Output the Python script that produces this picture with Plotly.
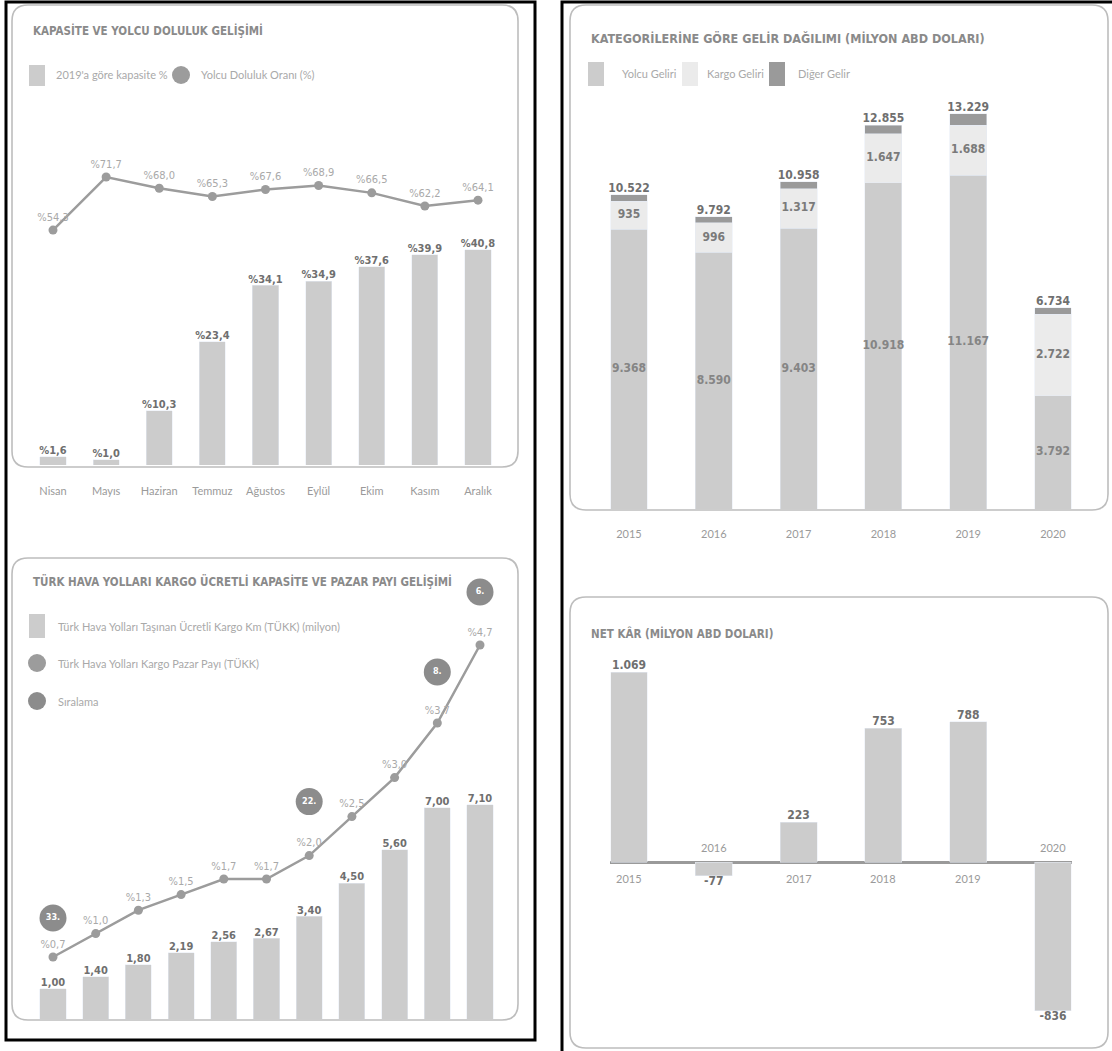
import plotly.graph_objects as go

W, H = 1112, 1051

# ---------------- data ----------------
months = ["Nisan", "Mayıs", "Haziran", "Temmuz", "Ağustos", "Eylül", "Ekim", "Kasım", "Aralık"]
capacity_pct = [1.6, 1.0, 10.3, 23.4, 34.1, 34.9, 37.6, 39.9, 40.8]
load_factor = [54.3, 71.7, 68.0, 65.3, 67.6, 68.9, 66.5, 62.2, 64.1]

cargo_years = ["2010", "2011", "2012", "2013", "2014", "2015", "2016", "2017", "2018", "2019", "2020"]
cargo_rtk = [1.00, 1.40, 1.80, 2.19, 2.56, 2.67, 3.40, 4.50, 5.60, 7.00, 7.10]
cargo_share = [0.7, 1.0, 1.3, 1.5, 1.7, 1.7, 2.0, 2.5, 3.0, 3.7, 4.7]
rank_years = ["2010", "2016", "2019", "2020"]
rank_values = [33, 22, 8, 6]
rank_lift_px = [39, 54, 51, 53]   # gap between share point and rank badge

rev_years = ["2015", "2016", "2017", "2018", "2019", "2020"]
passenger_rev = [9368, 8590, 9403, 10918, 11167, 3792]
cargo_rev = [935, 996, 1317, 1647, 1688, 2722]
total_rev = [10522, 9792, 10958, 12855, 13229, 6734]
other_rev = [t - p - c for t, p, c in zip(total_rev, passenger_rev, cargo_rev)]

profit_years = ["2015", "2016", "2017", "2018", "2019", "2020"]
net_profit = [1069, -77, 223, 753, 788, -836]

# ---------------- styles ----------------
C_BAR = "#cccccc"
C_LIGHT = "#ebebeb"
C_DARK = "#9a9a9a"
C_LINE = "#9c9c9c"
C_BADGE = "#8c8c8c"
C_TITLE = "#8a8a8a"
C_VAL = "#6f6f6f"
C_SOFT = "#a9a9a9"
C_AXIS = "#9a9a9a"
C_PANEL = "#bdbdbd"

F_TITLE = "DejaVu Sans Condensed, DejaVu Sans, sans-serif"
F_COND = "DejaVu Sans Condensed, DejaVu Sans, sans-serif"
F_THIN = "Lato, Open Sans, sans-serif"


def fx(p):
    return p / W


def fy(p):
    return 1 - p / H


def tr(v):
    """Turkish decimal: comma."""
    return f"{v:.1f}".replace(".", ",")


def thousands(v):
    return f"{v:,}".replace(",", ".")


fig = go.Figure()

# ======== Panel 1: capacity & load factor ========
fig.add_trace(go.Bar(x=months, y=capacity_pct, width=0.49, marker_color=C_BAR,
                     xaxis="x", yaxis="y", hoverinfo="skip"))
fig.add_trace(go.Scatter(x=months, y=capacity_pct, mode="text",
                         text=["%" + tr(v) for v in capacity_pct], textposition="top center",
                         textfont=dict(family=F_COND, size=11, color=C_VAL, weight="bold"),
                         xaxis="x", yaxis="y", cliponaxis=False, hoverinfo="skip"))
fig.add_trace(go.Scatter(x=months, y=load_factor, mode="lines+markers+text",
                         line=dict(color=C_LINE, width=2.5), marker=dict(size=9, color=C_LINE),
                         text=["%" + tr(v) for v in load_factor], textposition="top center",
                         textfont=dict(family=F_COND, size=11, color=C_SOFT),
                         xaxis="x", yaxis="y2", cliponaxis=False, hoverinfo="skip"))

# ======== Panel 2: cargo capacity & market share ========
fig.add_trace(go.Bar(x=cargo_years, y=cargo_rtk, width=0.61, marker_color=C_BAR,
                     xaxis="x2", yaxis="y3", hoverinfo="skip"))
fig.add_trace(go.Scatter(x=cargo_years, y=cargo_rtk, mode="text",
                         text=[f"{v:.2f}".replace(".", ",") for v in cargo_rtk], textposition="top center",
                         textfont=dict(family=F_COND, size=11, color=C_VAL, weight="bold"),
                         xaxis="x2", yaxis="y3", cliponaxis=False, hoverinfo="skip"))
fig.add_trace(go.Scatter(x=cargo_years, y=cargo_share, mode="lines+markers+text",
                         line=dict(color=C_LINE, width=2.5), marker=dict(size=9, color=C_LINE),
                         text=["%" + tr(v) for v in cargo_share], textposition="top center",
                         textfont=dict(family=F_COND, size=11, color=C_SOFT),
                         xaxis="x2", yaxis="y4", cliponaxis=False, hoverinfo="skip"))

SHARE_PX_PER_UNIT = 78.0
share_by_year = dict(zip(cargo_years, cargo_share))
badge_y = [share_by_year[y] + lift / SHARE_PX_PER_UNIT for y, lift in zip(rank_years, rank_lift_px)]
fig.add_trace(go.Scatter(x=rank_years, y=badge_y, mode="markers+text",
                         marker=dict(size=27, color=C_BADGE),
                         text=[f"{r}." for r in rank_values], textposition="middle center",
                         textfont=dict(family=F_COND, size=9, color="white", weight="bold"),
                         xaxis="x2", yaxis="y4", cliponaxis=False, hoverinfo="skip"))

# ======== Panel 3: revenue by category ========
fig.add_trace(go.Bar(x=rev_years, y=passenger_rev, width=0.436, marker_color=C_BAR,
                     xaxis="x3", yaxis="y5", hoverinfo="skip"))
fig.add_trace(go.Bar(x=rev_years, y=cargo_rev, width=0.436, marker_color=C_LIGHT,
                     xaxis="x3", yaxis="y5", hoverinfo="skip"))
fig.add_trace(go.Bar(x=rev_years, y=other_rev, width=0.436, marker_color=C_DARK,
                     xaxis="x3", yaxis="y5", hoverinfo="skip"))
fig.add_trace(go.Scatter(x=rev_years, y=[p / 2 for p in passenger_rev], mode="text",
                         text=[thousands(v) for v in passenger_rev], textposition="middle center",
                         textfont=dict(family=F_COND, size=12, color="#858585", weight="bold"),
                         xaxis="x3", yaxis="y5", cliponaxis=False, hoverinfo="skip"))
fig.add_trace(go.Scatter(x=rev_years, y=[p + c / 2 for p, c in zip(passenger_rev, cargo_rev)], mode="text",
                         text=[thousands(v) for v in cargo_rev], textposition="middle center",
                         textfont=dict(family=F_COND, size=12, color="#7a7a7a", weight="bold"),
                         xaxis="x3", yaxis="y5", cliponaxis=False, hoverinfo="skip"))
fig.add_trace(go.Scatter(x=rev_years, y=total_rev, mode="text",
                         text=[thousands(v) for v in total_rev], textposition="top center",
                         textfont=dict(family=F_COND, size=12, color=C_VAL, weight="bold"),
                         xaxis="x3", yaxis="y5", cliponaxis=False, hoverinfo="skip"))

# ======== Panel 4: net profit ========
fig.add_trace(go.Bar(x=profit_years, y=net_profit, width=0.436, marker_color=C_BAR,
                     xaxis="x4", yaxis="y6", hoverinfo="skip"))
fig.add_trace(go.Scatter(x=profit_years, y=net_profit, mode="text",
                         text=[thousands(v) if v >= 0 else "-" + thousands(-v) for v in net_profit],
                         textposition=["top center" if v >= 0 else "bottom center" for v in net_profit],
                         textfont=dict(family=F_COND, size=12, color=C_VAL, weight="bold"),
                         xaxis="x4", yaxis="y6", cliponaxis=False, hoverinfo="skip"))

annotations = []
# year captions sit on the opposite side of the zero line from each bar
for i, (yr, v) in enumerate(zip(profit_years, net_profit)):
    annotations.append(dict(x=i, y=0, xref="x4", yref="y6", text=yr, showarrow=False,
                            yanchor="top" if v >= 0 else "bottom", yshift=-8 if v >= 0 else 6,
                            font=dict(family=F_THIN, size=11, color=C_AXIS)))

# ---------------- axes ----------------
def xdom(c0, c1, n, pad=0.5):
    step = (c1 - c0) / (n - 1)
    return [fx(c0 - pad * step), fx(c1 + pad * step)], [-pad, n - 1 + pad]


def ydom(top, bottom):
    return [fy(bottom), fy(top)]


hide = dict(showgrid=False, zeroline=False, showline=False, ticks="", showticklabels=False, fixedrange=True)

d1, r1 = xdom(53, 478, 9)
d2, r2 = xdom(53, 480, 11)
d3, r3 = xdom(629, 1053, 6)
d4, r4 = xdom(629, 1053, 6, pad=0.22)

layout_axes = dict(
    xaxis=dict(domain=d1, range=r1, anchor="y", type="category", **{**hide, "showticklabels": True},
               tickfont=dict(family=F_THIN, size=11, color=C_AXIS), ticklabelstandoff=18),
    yaxis=dict(domain=ydom(130, 465), range=[0, 335 / 5.27], anchor="x", **hide),
    yaxis2=dict(domain=ydom(130, 465), range=[71.7 - 288 / 3.05, 71.7 + (335 - 288) / 3.05],
                overlaying="y", anchor="x", **hide),
    xaxis2=dict(domain=d2, range=r2, anchor="y3", type="category", **hide),
    yaxis3=dict(domain=ydom(560, 1019), range=[0, 459 / 30.2], anchor="x2", **hide),
    yaxis4=dict(domain=ydom(560, 1019), range=[-(1019 - 1011.6) / SHARE_PX_PER_UNIT, (1011.6 - 560) / SHARE_PX_PER_UNIT],
                overlaying="y3", anchor="x2", **hide),
    xaxis3=dict(domain=d3, range=r3, anchor="y5", type="category", **{**hide, "showticklabels": True},
                tickfont=dict(family=F_THIN, size=11, color=C_AXIS), ticklabelstandoff=17),
    yaxis5=dict(domain=ydom(100, 509), range=[0, 409 / 0.02987], anchor="x3", **hide),
    xaxis4=dict(domain=d4, range=r4, anchor="y6", type="category", **hide),
    yaxis6=dict(domain=ydom(650, 1030), range=[-(1030 - 862) / 0.1777, (862 - 650) / 0.1777], anchor="x4",
                showgrid=False, showline=False, ticks="", showticklabels=False, fixedrange=True,
                zeroline=True, zerolinecolor="#9a9a9a", zerolinewidth=2.5),
)

# ---------------- frames, panels, titles, legends ----------------
shapes = []


def rounded(x0, y0, x1, y1, r):
    p = (f"M {fx(x0 + r)},{fy(y0)} L {fx(x1 - r)},{fy(y0)} Q {fx(x1)},{fy(y0)} {fx(x1)},{fy(y0 + r)} "
         f"L {fx(x1)},{fy(y1 - r)} Q {fx(x1)},{fy(y1)} {fx(x1 - r)},{fy(y1)} "
         f"L {fx(x0 + r)},{fy(y1)} Q {fx(x0)},{fy(y1)} {fx(x0)},{fy(y1 - r)} "
         f"L {fx(x0)},{fy(y0 + r)} Q {fx(x0)},{fy(y0)} {fx(x0 + r)},{fy(y0)} Z")
    return dict(type="path", path=p, xref="paper", yref="paper",
                line=dict(color=C_PANEL, width=1.6), layer="below")


shapes.append(rounded(12, 5, 518, 467, 16))
shapes.append(rounded(12, 558, 518, 1020, 16))
shapes.append(rounded(570, 5, 1108, 510, 16))
shapes.append(rounded(570, 597, 1108, 1048, 16))

# black outer frames
shapes.append(dict(type="rect", xref="paper", yref="paper", x0=fx(6), x1=fx(535), y0=fy(1040), y1=fy(2),
                   line=dict(color="black", width=3), layer="above"))
shapes.append(dict(type="rect", xref="paper", yref="paper", x0=fx(562), x1=fx(1125), y0=fy(1070), y1=fy(2),
                   line=dict(color="black", width=3), layer="above"))


def title(x, y, text, size=11.5):
    annotations.append(dict(x=fx(x), y=fy(y), xref="paper", yref="paper", text=text, showarrow=False,
                            xanchor="left", yanchor="middle",
                            font=dict(family=F_TITLE, size=size, color=C_TITLE, weight="bold")))


def legend_text(x, y, text):
    annotations.append(dict(x=fx(x), y=fy(y), xref="paper", yref="paper", text=text, showarrow=False,
                            xanchor="left", yanchor="middle",
                            font=dict(family=F_THIN, size=11, color=C_SOFT)))


def swatch(x0, y0, x1, y1, color):
    shapes.append(dict(type="rect", xref="paper", yref="paper", x0=fx(x0), x1=fx(x1), y0=fy(y1), y1=fy(y0),
                       fillcolor=color, line=dict(width=0)))


def dot(cx, cy, r, color):
    shapes.append(dict(type="circle", xref="paper", yref="paper", x0=fx(cx - r), x1=fx(cx + r),
                       y0=fy(cy + r), y1=fy(cy - r), fillcolor=color, line=dict(width=0)))


title(31, 31, "KAPASİTE VE YOLCU DOLULUK GELİŞİMİ")
swatch(29, 65, 45, 86, C_BAR)
legend_text(54, 75, "2019'a göre kapasite %")
dot(181, 75, 9, C_LINE)
legend_text(199, 75, "Yolcu Doluluk Oranı (%)")

title(31, 581, "TÜRK HAVA YOLLARI KARGO ÜCRETLİ KAPASİTE VE PAZAR PAYI GELİŞİMİ")
swatch(29, 614, 45, 638, C_BAR)
legend_text(56, 626, "Türk Hava Yolları Taşınan Ücretli Kargo Km (TÜKK) (milyon)")
dot(37, 663, 9, C_LINE)
legend_text(56, 663, "Türk Hava Yolları Kargo Pazar Payı (TÜKK)")
dot(37, 701, 9, C_BADGE)
legend_text(56, 701, "Sıralama")

title(589, 38, "KATEGORİLERİNE GÖRE GELİR DAĞILIMI (MİLYON ABD DOLARI)", size=12.5)
swatch(588, 62, 604, 86, C_BAR)
legend_text(620, 73, "Yolcu Geliri")
swatch(682, 62, 698, 86, C_LIGHT)
legend_text(705, 73, "Kargo Geliri")
swatch(769, 62, 785, 86, C_DARK)
legend_text(796, 73, "Diğer Gelir")

title(589, 633, "NET KÂR (MİLYON ABD DOLARI)")

fig.update_layout(
    width=W, height=H, margin=dict(l=0, r=0, t=0, b=0),
    paper_bgcolor="white", plot_bgcolor="rgba(0,0,0,0)",
    barmode="stack", showlegend=False,
    shapes=shapes, annotations=annotations,
    **layout_axes,
)

fig.write_html("out.html", config={"displayModeBar": False})
